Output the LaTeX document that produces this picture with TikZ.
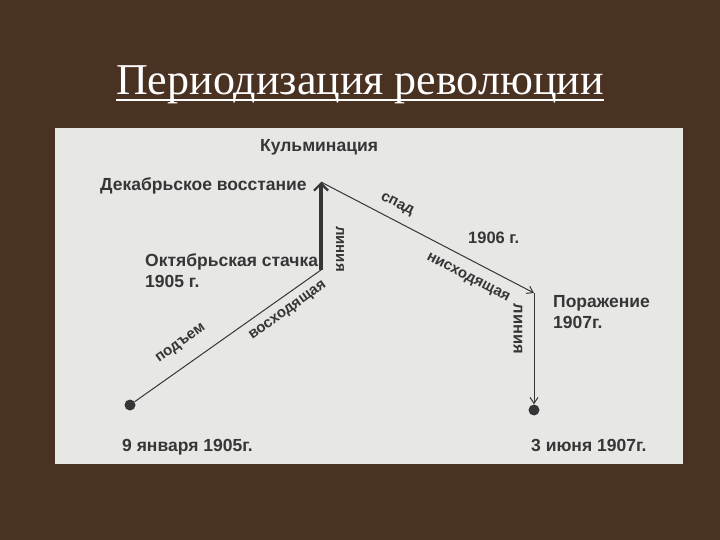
\documentclass[tikz,border=0pt]{standalone}
\usepackage{fontspec}
\setmainfont{Liberation Sans}
\newfontfamily\titlefont{Liberation Serif}
\usetikzlibrary{arrows.meta}
\definecolor{bgbrown}{HTML}{4A3223}
\definecolor{panelgray}{HTML}{E7E7E5}
\definecolor{ink}{HTML}{363636}
\begin{document}
\begin{tikzpicture}[x=1pt,y=-1pt,
  lbl/.style={font=\bfseries\fontsize{17.5}{21}\selectfont, text=ink, inner sep=0pt, align=left},
  small/.style={font=\bfseries\fontsize{15}{17}\selectfont, text=ink, inner sep=0pt},
  dotnode/.style={circle, fill=ink, minimum size=11pt, inner sep=0pt},
  thinline/.style={draw=ink, line width=1pt},
  thickarrow/.style={draw=ink, line width=3.5pt, -{Straight Barb[length=7pt,width=14pt,line width=2.2pt]}},
  thinarrow/.style={draw=ink, line width=1pt, -{Straight Barb[length=6pt,width=8pt]}}
]
\useasboundingbox (0,0) rectangle (720,540);
\fill[bgbrown] (0,0) rectangle (720,540);
% title
\node[font=\titlefont\fontsize{44}{48}\selectfont, text=white, inner sep=0pt, anchor=base] (title) at (360,95) {Периодизация революции};
\draw[white, line width=1.5pt] (title.south west |- 0,100) -- (title.south east |- 0,100);
% panel
\fill[panelgray] (55,128) rectangle (683,464);
% points
\node[dotnode] (start) at (130,405) {};
\coordinate (oct) at (321,270);
\coordinate (peak) at (321,182);
\coordinate (defeat) at (534,293);
\node[dotnode] (end) at (534,410) {};
% lines
\draw[thinline] (start) -- (oct);
\draw[thickarrow] (oct) -- (peak);
\draw[thinarrow] (peak) -- (defeat);
\draw[thinarrow] (defeat) -- (end.north);
% labels
\node[lbl, anchor=west] (kulm) at (260,147) {Кульминация};
\node[lbl, anchor=west] (dec) at (100,186) {Декабрьское восстание};
\node[lbl, anchor=north west] (octl) at (145,253) {Октябрьская стачка\\1905 г.};
\node[lbl, anchor=north west] (por) at (553,295) {Поражение\\1907г.};
\node[lbl, anchor=west] (jan) at (122,447) {9 января 1905г.};
\node[lbl, anchor=west] (jun) at (531,445) {3 июня 1907г.};
\node[lbl, anchor=west, font=\bfseries\fontsize{16.5}{19}\selectfont] (y1906) at (468,238) {1906 г.};
\node[small, rotate=-90] (lin1) at (340,249) {линия};
\node[small, rotate=-90, font=\bfseries\fontsize{16.5}{19}\selectfont] (lin2) at (518,329) {линия};
\node[small, rotate=35.4] (podem) at (181,344) {подъем};
\node[small, rotate=35.4] (vosh) at (288,311) {восходящая};
\node[small, rotate=-27.3] (spad) at (397,205) {спад};
\node[small, rotate=-27.3] (nish) at (468,278) {нисходящая};
\end{tikzpicture}
\end{document}
